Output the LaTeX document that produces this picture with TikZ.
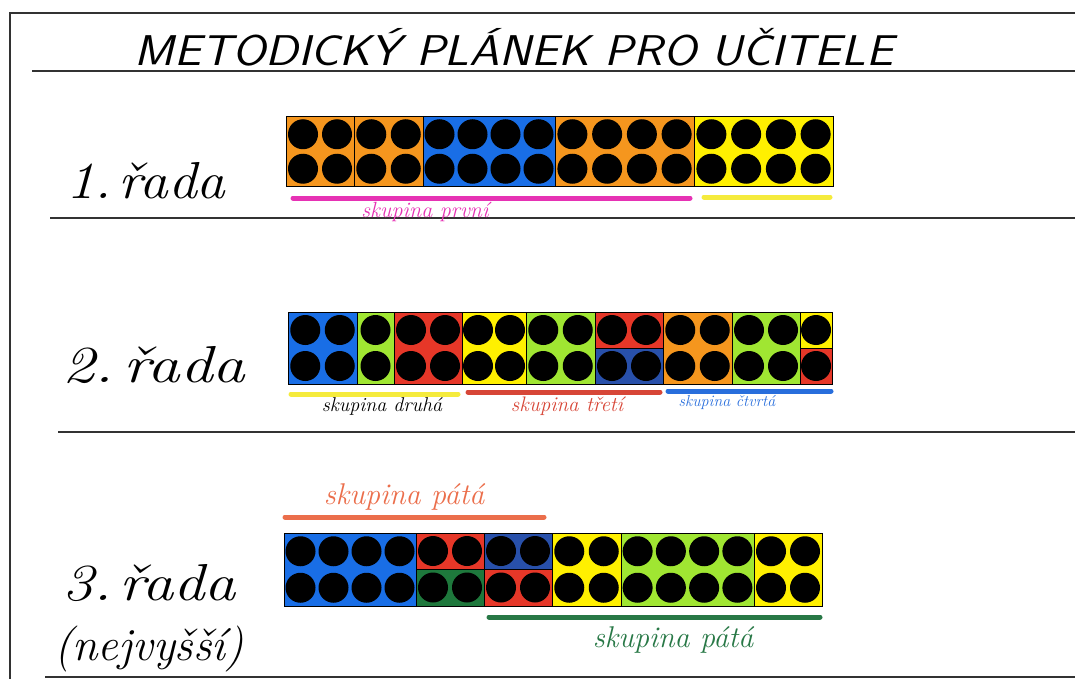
\documentclass[tikz,border=0pt]{standalone}
\usepackage{tikz}
\definecolor{cOr}{RGB}{245,150,30}
\definecolor{cBl}{RGB}{25,110,230}
\definecolor{cYe}{RGB}{255,240,0}
\definecolor{cGr}{RGB}{160,230,50}
\definecolor{cRe}{RGB}{230,55,40}
\definecolor{cDg}{RGB}{30,120,60}
\definecolor{cDb}{RGB}{40,80,170}
\definecolor{lMa}{RGB}{230,50,180}
\definecolor{lYe}{RGB}{245,235,60}
\definecolor{lRe}{RGB}{215,70,55}
\definecolor{lBl}{RGB}{40,110,220}
\definecolor{lOr}{RGB}{235,110,75}
\definecolor{lGr}{RGB}{40,120,70}
\definecolor{ink}{RGB}{50,50,50}
\newcommand\dotbox[7]{%
  \fill[#5] (#1,#2) rectangle (#3,#4);
  \foreach \i in {1,...,#6}{\foreach \j in {1,...,#7}{%
    \fill ({#1+(\i-0.5)*(#3-#1)/#6},{#2+(\j-0.5)*(#4-#2)/#7}) circle[radius=15pt];}}
  \draw[boxline] (#1,#2) rectangle (#3,#4);
}
\tikzset{
  boxline/.style={line width=1pt,draw=black},
  rule/.style={line width=1.6pt,draw=ink},
  bar/.style={line width=5pt,line cap=round},
  hand/.style={inner sep=0pt,font=\fontsize{52}{56}\selectfont\itshape},
  grp/.style={inner sep=0pt,font=\fontsize{22}{24}\selectfont\itshape},
}
\begin{document}
\begin{tikzpicture}[x=1pt,y=-1pt]
\useasboundingbox (0,0) rectangle (1075,679);
% frame and rules
\draw[rule] (1075,13) -- (10,13) -- (10,679);
\draw[rule] (32,71) -- (1075,71);
\draw[rule] (50,218) -- (1075,218);
\draw[rule] (58,432) -- (1075,432);
\draw[rule] (45,677) -- (1075,677);
% title
\node[inner sep=0pt,xscale=1.12,font=\fontsize{43}{48}\selectfont\sffamily\slshape] (title) at (514,47) {METODICKÝ PLÁNEK PRO UČITELE};
% row labels
\node[hand,anchor=base west,xscale=1.1] (r1) at (66,198) {1.\hspace{0.12em}řada};
\node[hand,anchor=base west,xscale=1.25] (r2) at (62,382) {2.\hspace{0.15em}řada};
\node[hand,anchor=base west,xscale=1.2] (r3) at (62,600) {3.\hspace{0.12em}řada};
\node[hand,anchor=base west,font=\fontsize{46}{50}\selectfont\itshape] (r3b) at (54,660) {(nejvyšší)};
% row 1
\dotbox{286}{117}{354}{186}{cOr}{2}{2}
\dotbox{354}{117}{423}{186}{cOr}{2}{2}
\dotbox{423}{117}{555}{186}{cBl}{4}{2}
\dotbox{555}{117}{694}{186}{cOr}{4}{2}
\dotbox{694}{117}{833}{186}{cYe}{4}{2}
\draw[bar,lMa] (293,198) -- (690,198);
\draw[bar,lYe] (704,197) -- (830,197);
\node[grp,text=lMa] (g1) at (425,212) {skupina první};
% row 2
\dotbox{288}{312}{357}{384}{cBl}{2}{2}
\dotbox{357}{312}{394}{384}{cGr}{1}{2}
\dotbox{394}{312}{462}{384}{cRe}{2}{2}
\dotbox{462}{312}{526}{384}{cYe}{2}{2}
\dotbox{526}{312}{595}{384}{cGr}{2}{2}
\dotbox{595}{312}{663}{348}{cRe}{2}{1}
\dotbox{595}{348}{663}{384}{cDb}{2}{1}
\dotbox{663}{312}{732}{384}{cOr}{2}{2}
\dotbox{732}{312}{800}{384}{cGr}{2}{2}
\dotbox{800}{312}{832}{348}{cYe}{1}{1}
\dotbox{800}{348}{832}{384}{cRe}{1}{1}
\draw[bar,lYe] (291,394) -- (458,394);
\draw[bar,lRe] (468,392) -- (660,392);
\draw[bar,lBl] (668,391) -- (831,391);
\node[grp,text=black,font=\fontsize{20}{22}\selectfont\itshape] (g2) at (382,406) {skupina druhá};
\node[grp,text=lRe,font=\fontsize{21}{22}\selectfont\itshape] (g3) at (567,406) {skupina třetí};
\node[grp,text=lBl,font=\fontsize{16}{18}\selectfont\itshape] (g4) at (727,402) {skupina čtvrtá};
% row 3
\draw[bar,lOr] (285,517) -- (544,517);
\node[grp,text=lOr,font=\fontsize{30}{32}\selectfont\itshape] (g5) at (404,497) {skupina pátá};
\dotbox{284}{533}{416}{606}{cBl}{4}{2}
\dotbox{416}{533}{484}{569}{cRe}{2}{1}
\dotbox{416}{569}{484}{606}{cDg}{2}{1}
\dotbox{484}{533}{552}{569}{cDb}{2}{1}
\dotbox{484}{569}{552}{606}{cRe}{2}{1}
\dotbox{552}{533}{621}{606}{cYe}{2}{2}
\dotbox{621}{533}{754}{606}{cGr}{4}{2}
\dotbox{754}{533}{822}{606}{cYe}{2}{2}
\draw[bar,lGr] (489,617) -- (820,617);
\node[grp,text=lGr,font=\fontsize{30}{32}\selectfont\itshape] (g6) at (673,640) {skupina pátá};
\end{tikzpicture}
\end{document}
